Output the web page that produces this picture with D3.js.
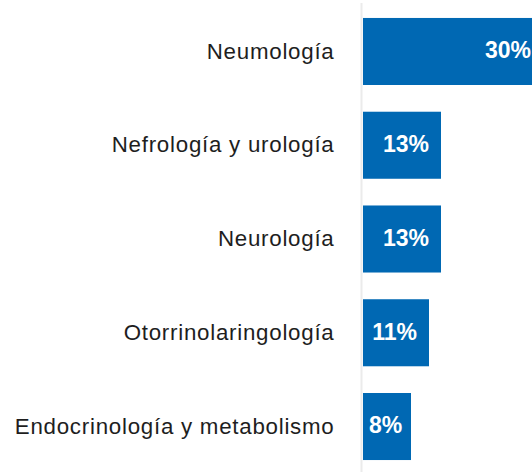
<!DOCTYPE html>
<html><head><meta charset="utf-8">
<script src="https://cdn.jsdelivr.net/npm/d3@7"></script>
<style>html,body{margin:0;padding:0;background:#fff;overflow:hidden}</style>
</head><body>
<svg id="c" width="532" height="472"></svg>
<script>
const categories = ["Neumología","Nefrología y urología","Neurología","Otorrinolaringología","Endocrinología y metabolismo"];
const values = [30,13,13,11,8];
const valueLabels = ["30%","13%","13%","11%","8%"];

const svg = d3.select("#c");
const x = d3.scaleLinear().domain([0,30]).range([363,543]);
const y = d3.scaleBand().domain(categories).range([4.6,473.4]).paddingInner(0.285).paddingOuter(0.1425);

svg.append("line").attr("x1",361.5).attr("x2",361.5).attr("y1",3).attr("y2",472)
  .attr("stroke","#ebebeb").attr("stroke-width",2);

const data = categories.map((c,i)=>({c,v:values[i],l:valueLabels[i]}));

svg.selectAll("rect.bar").data(data).join("rect").attr("class","bar")
  .attr("x",x(0)).attr("y",d=>y(d.c)).attr("width",d=>x(d.v)-x(0)).attr("height",y.bandwidth())
  .attr("fill","#0068b3");

svg.selectAll("text.cat").data(data).join("text").attr("class","cat")
  .attr("x",334.5).attr("y",d=>y(d.c)+y.bandwidth()/2+7.2)
  .attr("text-anchor","end").attr("font-family","Liberation Sans, Arial, sans-serif")
  .attr("font-size",22.3).attr("letter-spacing","0.75px").attr("fill","#1e1e1e").text(d=>d.c);

svg.selectAll("text.val").data(data).join("text").attr("class","val")
  .attr("y",d=>y(d.c)+y.bandwidth()/2+6.8)
  .attr("text-anchor","end").attr("font-family","Liberation Sans, Arial, sans-serif").attr("font-weight","bold")
  .attr("font-size",23).attr("fill","#fff").text(d=>d.l)
  .each(function(d){
    const w=this.getComputedTextLength();
    const xe=Math.max(x(d.v)-12, x(0)+6+w);
    d3.select(this).attr("x",xe);
  });
</script>
</body></html>
